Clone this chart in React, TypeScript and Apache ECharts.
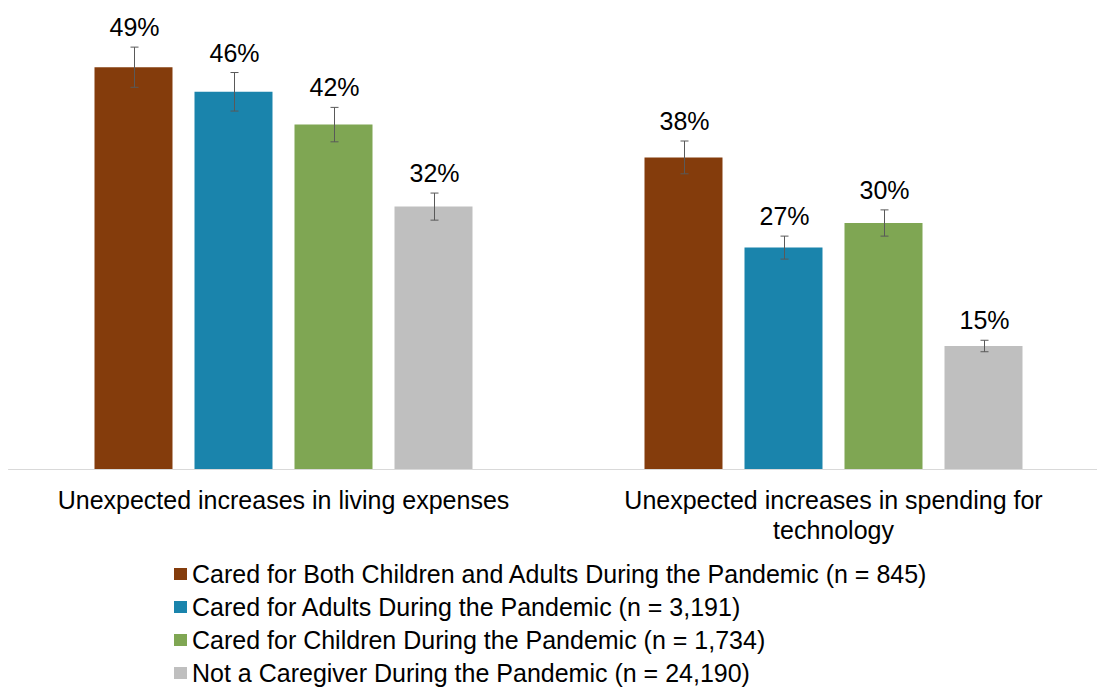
import React, { useEffect, useRef } from "react";
import * as echarts from "echarts";

const categories = [
  "Unexpected increases in living expenses",
  "Unexpected increases in spending for\ntechnology",
];
const seriesNames = [
  "Cared for Both Children and Adults During the Pandemic (n = 845)",
  "Cared for Adults During the Pandemic (n = 3,191)",
  "Cared for Children During the Pandemic (n = 1,734)",
  "Not a Caregiver During the Pandemic (n = 24,190)",
];
const bothValues = [49, 38];
const adultsValues = [46, 27];
const childrenValues = [42, 30];
const notValues = [32, 15];
const bothErr = [2.45, 2.0];
const adultsErr = [2.35, 1.4];
const childrenErr = [2.1, 1.6];
const notErr = [1.65, 0.7];

const colors = ["#843C0C", "#1A84AC", "#7FA653", "#BFBFBF"];

const BAR_W = 78;
const BAR_GAP = 22;
const FONT = "'Liberation Sans', Arial, sans-serif";

export default function App() {
  const ref = useRef<HTMLDivElement>(null);
  useEffect(() => {
    if (!ref.current) return;
    const chart = echarts.init(ref.current, undefined, { renderer: "svg" });
    const values = [bothValues, adultsValues, childrenValues, notValues];
    const errs = [bothErr, adultsErr, childrenErr, notErr];

    const barSeries = values.map((v, i) => ({
      name: seriesNames[i],
      type: "bar",
      data: v,
      barWidth: BAR_W,
      barGap: ((BAR_GAP / BAR_W) * 100).toFixed(2) + "%",
      itemStyle: { color: colors[i] },
      z: 2,
    }));

    const errSeries = values.map((v, i) => ({
      name: "err" + i,
      type: "custom",
      z: 5,
      data: v.map((val, c) => [c, val, errs[i][c], i]),
      encode: { x: 0, y: 1 },
      renderItem: (params: any, api: any) => {
        const c = api.value(0);
        const val = api.value(1);
        const e = api.value(2);
        const idx = api.value(3);
        const off = (idx - 1.5) * (BAR_W + BAR_GAP);
        const hi = api.coord([c, val + e]);
        const lo = api.coord([c, val - e]);
        const x = Math.round(hi[0] + off) + 0.5;
        const cap = 4;
        const ls = { stroke: "#595959", lineWidth: 1 };
        return {
          type: "group",
          children: [
            { type: "line", shape: { x1: x, y1: hi[1], x2: x, y2: lo[1] }, style: ls },
            { type: "line", shape: { x1: x - cap, y1: hi[1], x2: x + cap, y2: hi[1] }, style: ls },
            { type: "line", shape: { x1: x - cap, y1: lo[1], x2: x + cap, y2: lo[1] }, style: ls },
            {
              type: "text",
              x: x,
              y: hi[1] - 20,
              style: {
                text: val + "%",
                fill: "#000",
                fontSize: 25,
                fontFamily: FONT,
                align: "center",
                verticalAlign: "middle",
              },
            },
          ],
        };
      },
    }));

    chart.setOption({
      animation: false,
      grid: { left: 8.5, top: 18, width: 1100, height: 451, containLabel: false },
      xAxis: {
        type: "category",
        data: categories,
        axisLine: { show: true, lineStyle: { color: "#D9D9D9", width: 1 } },
        axisTick: { show: false },
        axisLabel: {
          fontSize: 25,
          fontFamily: FONT,
          color: "#000",
          lineHeight: 30,
          margin: 16,
          interval: 0,
        },
      },
      yAxis: { type: "value", min: 0, max: 55, show: false, splitLine: { show: false } },
      legend: {
        data: seriesNames,
        orient: "vertical",
        left: 169,
        top: 556,
        icon: "rect",
        itemWidth: 13,
        itemHeight: 12,
        itemGap: 7,
        textStyle: { fontSize: 25, fontFamily: FONT, color: "#000", lineHeight: 26 },
      },
      series: [...barSeries, ...errSeries],
    });
    return () => chart.dispose();
  }, []);
  return (
    <div style={{ width: 1097, height: 700, position: "absolute", left: 0, top: 0, overflow: "hidden" }}>
      <div ref={ref} style={{ width: 1109, height: 700 }} />
    </div>
  );
}
